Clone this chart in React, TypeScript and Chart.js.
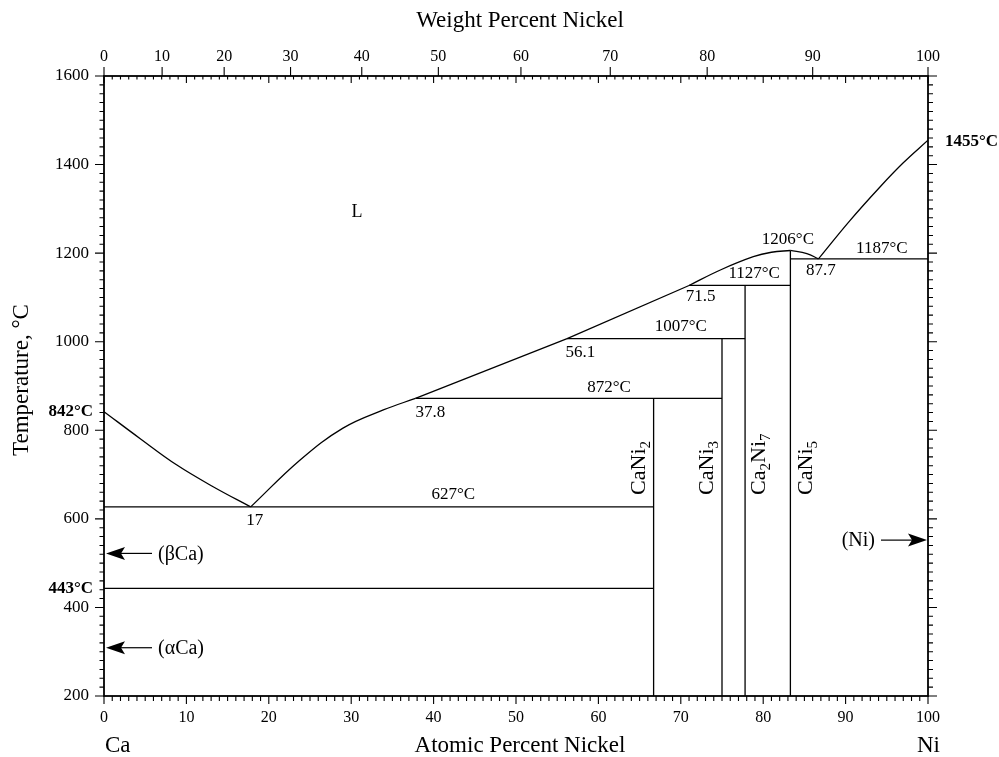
import { useEffect, useRef } from "react";
import { Chart, registerables } from "chart.js";

Chart.register(...registerables);

const SERIF = "'Liberation Serif', 'DejaVu Serif', serif";

// ---- axis ticks ----
const atomicTicks = [0, 10, 20, 30, 40, 50, 60, 70, 80, 90, 100];
const tempTicks = [200, 400, 600, 800, 1000, 1200, 1400, 1600];
const weightTicks = [0, 10, 20, 30, 40, 50, 60, 70, 80, 90, 100];
const CA_MASS = 40.078;
const NI_MASS = 58.693;

// ---- phase boundaries (atomic % Ni, °C) ----
const caLiquidus = [
  [0, 842], [4.4, 781], [8.8, 722], [13.3, 672], [17.8, 627],
];
const liquidusCaNi2 = [
  [17.8, 627], [23.8, 733], [29, 805], [33.9, 846], [37.8, 872],
];
const liquidusCaNi3 = [[37.8, 872], [56.2, 1007]];
const liquidusCa2Ni7 = [[56.2, 1007], [71, 1127]];
const liquidusCaNi5L = [[71, 1127], [74.8, 1162], [78.8, 1192], [81, 1202], [83.3, 1206]];
const liquidusCaNi5R = [[83.3, 1206], [85.3, 1199], [86.7, 1187]];
const niLiquidus = [
  [86.7, 1187], [90.5, 1273], [94.2, 1350], [97, 1404], [100, 1455],
];

const horizontals = [
  [0, 66.7, 627],
  [0, 66.7, 443],
  [37.8, 75, 872],
  [56.2, 77.8, 1007],
  [71, 83.3, 1127],
  [83.3, 100, 1187],
];
const verticals = [
  [66.7, 200, 872],
  [75, 200, 1007],
  [77.8, 200, 1127],
  [83.3, 200, 1206],
];

// ---- annotations ----
const pointLabels = [
  { text: "L", x: 30.7, t: 1293, size: 18 },
  { text: "1206°C", x: 83.0, t: 1230 },
  { text: "1187°C", x: 94.4, t: 1211 },
  { text: "87.7", x: 87.0, t: 1160 },
  { text: "1127°C", x: 78.9, t: 1153 },
  { text: "71.5", x: 72.4, t: 1101 },
  { text: "1007°C", x: 70.0, t: 1035 },
  { text: "56.1", x: 57.8, t: 976 },
  { text: "872°C", x: 61.3, t: 897 },
  { text: "37.8", x: 39.6, t: 839 },
  { text: "627°C", x: 42.4, t: 654 },
  { text: "17", x: 18.3, t: 597 },
];
const meltLabels = [
  { text: "842°C", t: 842, side: "left" },
  { text: "443°C", t: 443, side: "left" },
  { text: "1455°C", t: 1452, side: "right" },
];
const arrows = [
  { text: "(βCa)", t: 522, side: "left" },
  { text: "(αCa)", t: 309, side: "left" },
  { text: "(Ni)", t: 552, side: "right" },
];
const compounds = [
  { parts: [["CaNi", false], ["2", true]], x: 65.7, t: 654 },
  { parts: [["CaNi", false], ["3", true]], x: 73.95, t: 654 },
  { parts: [["Ca", false], ["2", true], ["Ni", false], ["7", true]], x: 80.2, t: 654 },
  { parts: [["CaNi", false], ["5", true]], x: 85.9, t: 654 },
];

const wtToAt = (w: number) => {
  const ni = w / NI_MASS;
  const ca = (100 - w) / CA_MASS;
  return (ni / (ni + ca)) * 100;
};

const toPts = (arr: number[][]) => arr.map(([x, y]) => ({ x, y }));

const overlay = {
  id: "overlay",
  afterDraw(chart: any) {
    const { ctx, chartArea: a, scales } = chart;
    const xs = scales.x;
    const ys = scales.y;
    const x2 = scales.x2;
    const px = (v: number) => xs.getPixelForValue(v);
    const py = (v: number) => ys.getPixelForValue(v);
    ctx.save();
    ctx.strokeStyle = "#000";
    ctx.fillStyle = "#000";

    // frame
    ctx.lineWidth = 1.8;
    ctx.strokeRect(a.left, a.top, a.right - a.left, a.bottom - a.top);

    // ticks
    ctx.lineWidth = 1.1;
    ctx.beginPath();
    for (let i = 0; i <= 100; i++) {
      const X = px(i);
      const major = i % 10 === 0;
      ctx.moveTo(X, a.bottom);
      ctx.lineTo(X, a.bottom + (major ? 8 : 5));
      ctx.moveTo(X, a.top);
      ctx.lineTo(X, a.top + (major ? 7 : 3.5));
    }
    weightTicks.forEach((w) => {
      const X = x2.getPixelForValue(wtToAt(w));
      ctx.moveTo(X, a.top);
      ctx.lineTo(X, a.top - 9);
    });
    for (let t = 200; t <= 1600; t += 20) {
      const Y = py(t);
      const major = t % 200 === 0;
      ctx.moveTo(a.left, Y);
      ctx.lineTo(a.left - (major ? 9 : 4.5), Y);
      ctx.moveTo(a.right, Y);
      ctx.lineTo(a.right + (major ? 9 : 5), Y);
    }
    ctx.stroke();

    // point labels
    ctx.textBaseline = "middle";
    ctx.textAlign = "center";
    pointLabels.forEach((l: any) => {
      ctx.font = `${l.size || 17}px ${SERIF}`;
      ctx.fillText(l.text, px(l.x), py(l.t));
    });

    // melting / transformation temps (bold)
    ctx.font = `bold 17px ${SERIF}`;
    meltLabels.forEach((l) => {
      if (l.side === "left") {
        ctx.textAlign = "right";
        ctx.fillText(l.text, a.left - 11, py(l.t));
      } else {
        ctx.textAlign = "left";
        ctx.fillText(l.text, a.right + 17, py(l.t));
      }
    });

    // arrows
    ctx.font = `20px ${SERIF}`;
    arrows.forEach((ar) => {
      const Y = py(ar.t);
      const dir = ar.side === "left" ? 1 : -1;
      const tip = ar.side === "left" ? a.left + 2 : a.right - 1;
      const base = tip + dir * 19;
      const end = tip + dir * 46;
      ctx.beginPath();
      ctx.moveTo(tip, Y);
      ctx.lineTo(base, Y - 6.5);
      ctx.lineTo(base - dir * 4, Y);
      ctx.lineTo(base, Y + 6.5);
      ctx.closePath();
      ctx.fill();
      ctx.beginPath();
      ctx.lineWidth = 1.2;
      ctx.moveTo(base - dir * 4, Y);
      ctx.lineTo(end, Y);
      ctx.stroke();
      ctx.textAlign = ar.side === "left" ? "left" : "right";
      ctx.fillText(ar.text, end + dir * 6, Y + 1);
    });

    // compound labels (rotated, with subscripts)
    compounds.forEach((c) => {
      ctx.save();
      ctx.translate(px(c.x), py(c.t));
      ctx.rotate(-Math.PI / 2);
      ctx.textAlign = "left";
      ctx.textBaseline = "alphabetic";
      let cx = 0;
      c.parts.forEach(([s, sub]) => {
        ctx.font = sub ? `15px ${SERIF}` : `22px ${SERIF}`;
        ctx.fillText(s as string, cx, sub ? 5 : 0);
        cx += ctx.measureText(s as string).width;
      });
      ctx.restore();
    });

    // axis titles
    ctx.font = `23px ${SERIF}`;
    ctx.textBaseline = "middle";
    ctx.textAlign = "center";
    const midX = (a.left + a.right) / 2;
    ctx.fillText("Weight Percent Nickel", midX + 4, 21);
    ctx.fillText("Atomic Percent Nickel", midX + 4, 746);
    ctx.textAlign = "left";
    ctx.fillText("Ca", a.left + 1, 746);
    ctx.textAlign = "right";
    ctx.fillText("Ni", a.right + 12, 746);
    ctx.save();
    ctx.translate(22, (a.top + a.bottom) / 2 - 6);
    ctx.rotate(-Math.PI / 2);
    ctx.textAlign = "center";
    ctx.fillText("Temperature, °C", 0, 0);
    ctx.restore();

    ctx.restore();
  },
};

export default function App() {
  const ref = useRef<HTMLCanvasElement>(null);
  useEffect(() => {
    if (!ref.current) return;
    const line = (data: number[][], curve: boolean) => ({
      data: toPts(data),
      showLine: true,
      borderColor: "#000",
      borderWidth: 1.3,
      pointRadius: 0,
      fill: false,
      tension: curve ? 0.4 : 0,
      xAxisID: "x",
      yAxisID: "y",
    });
    const datasets: any[] = [
      line(caLiquidus, true),
      line(liquidusCaNi2, true),
      line(liquidusCaNi3, false),
      line(liquidusCa2Ni7, false),
      line(liquidusCaNi5L, true),
      line(liquidusCaNi5R, true),
      line(niLiquidus, true),
      ...horizontals.map(([x0, x1, t]) => line([[x0, t], [x1, t]], false)),
      ...verticals.map(([x, t0, t1]) => line([[x, t0], [x, t1]], false)),
    ];
    const tickFont = { family: SERIF, size: 16 };
    const chart = new Chart(ref.current, {
      type: "scatter",
      data: { datasets },
      plugins: [overlay],
      options: {
        animation: false,
        responsive: true,
        maintainAspectRatio: false,
        layout: { padding: { left: 0, right: 71, top: 0, bottom: 0 } },
        plugins: { legend: { display: false }, tooltip: { enabled: false } },
        scales: {
          x: {
            type: "linear",
            position: "bottom",
            min: 0,
            max: 100,
            afterBuildTicks: (s: any) => {
              s.ticks = atomicTicks.map((v) => ({ value: v }));
            },
            afterFit: (s: any) => {
              s.height = 61;
            },
            ticks: {
              font: tickFont,
              color: "#000",
              padding: 12,
              maxRotation: 0,
              autoSkip: false,
              callback: (v: any) => String(v),
            },
            grid: { display: false, drawTicks: false },
            border: { display: false },
          },
          x2: {
            type: "linear",
            position: "top",
            min: 0,
            max: 100,
            afterBuildTicks: (s: any) => {
              s.ticks = weightTicks.map((w) => ({ value: wtToAt(w) }));
            },
            afterFit: (s: any) => {
              s.height = 76;
            },
            ticks: {
              font: tickFont,
              color: "#000",
              padding: 10,
              maxRotation: 0,
              autoSkip: false,
              callback: (_v: any, i: number) => String(weightTicks[i]),
            },
            grid: { display: false, drawTicks: false },
            border: { display: false },
          },
          y: {
            type: "linear",
            position: "left",
            min: 200,
            max: 1600,
            afterBuildTicks: (s: any) => {
              s.ticks = tempTicks.map((v) => ({ value: v }));
            },
            afterFit: (s: any) => {
              s.width = 104;
            },
            ticks: {
              font: { family: SERIF, size: 17 },
              color: "#000",
              padding: 15,
              autoSkip: false,
              callback: (v: any) => String(v),
            },
            grid: { display: false, drawTicks: false },
            border: { display: false },
          },
        },
      } as any,
    });
    return () => chart.destroy();
  }, []);
  return (
    <div style={{ position: "absolute", left: 0, top: 0, width: 999, height: 757, background: "#fff" }}>
      <canvas ref={ref} />
    </div>
  );
}
